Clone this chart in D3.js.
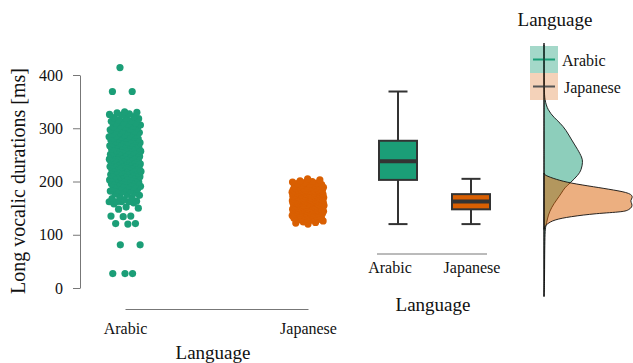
<!DOCTYPE html>
<html>
<head>
<meta charset="utf-8">
<script src="https://cdn.jsdelivr.net/npm/d3@7"></script>
<style>
  body { margin: 0; background: #fff; }
  svg, svg text { font-family: "Liberation Serif", "Times New Roman", serif; }
  svg { display: block; }
</style>
</head>
<body>
<svg id="chart" width="633" height="363"></svg>
<script>
// ---- data ----
var languages = ["Arabic", "Japanese"];
var colors = ["#1b9e77", "#d95f02"];
var yTicks = [0, 100, 200, 300, 400];

// long vowel durations in ms
var arabicDurations = [
  27, 27, 27, 81, 81, 120, 121, 121, 134, 135, 135, 148, 150, 152,
  158, 160, 162, 162, 162, 162, 163, 166, 168, 170, 172, 174,
  176, 177, 178, 180, 182, 183, 184, 186, 187, 188, 189, 190, 191, 192, 193, 194,
  195, 196, 197, 198, 199, 200, 201, 202, 203, 203, 204,
  205, 206, 206, 207, 208, 209, 209, 210, 211, 212, 213, 213, 214,
  215, 216, 216, 217, 218, 218, 219, 220, 220, 221, 222, 222, 223, 224, 224,
  225, 226, 226, 227, 228, 228, 229, 230, 230, 231, 232, 232, 233, 234, 234,
  235, 236, 236, 237, 238, 238, 239, 240, 240, 241, 242, 242, 243, 244, 244,
  245, 246, 247, 247, 248, 249, 250, 250, 251, 252, 253, 253, 254, 254,
  255, 256, 257, 258, 258, 259, 260, 261, 262, 262, 263, 264, 264,
  265, 266, 267, 268, 269, 269, 270, 271, 272, 272, 273, 274,
  275, 276, 277, 278, 279, 280, 280, 281, 282, 283, 284, 284,
  285, 286, 287, 288, 289, 290, 291, 292, 293, 294,
  295, 296, 297, 298, 300, 301, 302, 303, 304,
  305, 306, 308, 309, 310, 311, 313, 314,
  316, 318, 319, 320, 322, 324, 326, 327, 329, 330, 331,
  369, 369, 414
];
var japaneseDurations = [
  120, 122, 123, 124, 126, 127, 128, 129,
  130, 131, 132, 132, 133, 134, 135, 135, 136, 136, 137, 137, 138, 138, 139, 139,
  140, 140, 140, 141, 141, 141, 142, 142, 142, 143, 143, 143, 144, 144, 144,
  145, 145, 145, 145, 146, 146, 146, 146, 147, 147, 147,
  148, 148, 148, 149, 149, 149, 150, 150, 150, 151, 151, 151, 152, 152, 152,
  153, 153, 153, 154, 154, 154, 155, 155, 155, 156, 156, 156, 157, 157, 157,
  158, 158, 158, 158, 159, 159, 159, 160, 160, 160, 160, 161, 161, 161, 161,
  162, 162, 162, 162, 162,
  163, 163, 163, 163, 164, 164, 164, 164, 165, 165, 165, 165, 166, 166, 166, 166,
  167, 167, 167, 167, 168, 168, 168, 168, 169, 169, 169, 170, 170, 170, 170,
  171, 171, 171, 172, 172, 172, 172, 173, 173, 173, 174, 174, 174,
  175, 175, 175, 176, 176, 176,
  177, 177, 177, 178, 178, 178, 179, 179, 179, 180, 180, 180, 181, 181, 181,
  182, 182, 182, 183, 183, 183, 184, 184, 184, 185, 185,
  186, 186, 187, 187, 188, 188, 189, 189, 190, 191, 191, 192, 193, 193, 194, 195,
  196, 197, 198, 199, 200, 201, 203, 205
];

// marginal densities: [duration ms, density x 1000]
var arabicDensity = [
  [460, 0], [380, 0.05], [353, 0.2], [334, 1.3], [320, 3.4], [310, 5.4], [297, 7.4],
  [278, 9.3], [259, 11.5], [245, 12.8], [237, 13.1], [222, 12.6], [212, 11.5],
  [197, 8.8], [188, 6.9], [179, 6.0], [165, 4.2], [152, 2.6], [137, 1.4],
  [122, 0.9], [113, 0.4], [90, 0.3], [53, 0.2], [16, 0.2], [-16, 0]
];
var japaneseDensity = [
  [216, 0], [212, 0.1], [204, 4.0], [197, 8.8], [190, 16.9], [184, 23.6],
  [178, 29.3], [170, 30.0], [164, 29.0], [158, 29.7], [152, 29.7], [147, 28.6],
  [143, 27.0], [140, 17.5], [134, 8.8], [128, 3.2], [120, 1.0], [115, 0.2], [110, 0]
];

// ---- setup ----
var svg = d3.select("#chart");
var FONT = "'Liberation Serif', 'Times New Roman', serif";
var durations = { Arabic: arabicDurations, Japanese: japaneseDurations };
var densities = { Arabic: arabicDensity, Japanese: japaneseDensity };
var color = d3.scaleOrdinal().domain(languages).range(colors);

// shared vertical scale for all three panels
var y = d3.scaleLinear().domain([0, 400]).range([288, 75]);

// spread points sideways with a fixed low-discrepancy sequence (no randomness)
function jitter(i) {
    return ((i * 0.6180339887 + 0.5) % 1) * 2 - 1;
}

function styleAxis(g, size) {
    g.attr("font-family", null).attr("font-size", null);
    g.select(".domain").attr("stroke", "#777");
    g.selectAll(".tick line").attr("stroke", "#777");
    g.selectAll(".tick text")
        .style("font-family", FONT)
        .style("font-size", size + "px")
        .attr("fill", "#111");
}

// ---- panel 1: jittered points ----
var x = d3.scalePoint().domain(languages).range([125, 308]);

var yAxis = svg.append("g")
    .attr("transform", "translate(80,0)")
    .call(d3.axisLeft(y).tickValues(yTicks).tickSize(7).tickPadding(10).tickSizeOuter(0));
styleAxis(yAxis, 16);

var xAxis = svg.append("g")
    .attr("transform", "translate(0,309)")
    .call(d3.axisBottom(x).tickSize(0).tickPadding(14).tickSizeOuter(0));
styleAxis(xAxis, 16);

svg.append("text")
    .attr("transform", "translate(25,181) rotate(-90)")
    .attr("text-anchor", "middle")
    .attr("font-size", 20)
    .attr("fill", "#111")
    .text("Long vocalic durations [ms]");

svg.append("text")
    .attr("x", 213).attr("y", 359)
    .attr("text-anchor", "middle")
    .attr("font-size", 19)
    .attr("fill", "#111")
    .text("Language");

languages.forEach(function (lang) {
    svg.append("g").selectAll("circle")
        .data(durations[lang])
        .join("circle")
        .attr("cx", function (d, i) { return x(lang) + jitter(i) * 16; })
        .attr("cy", function (d) { return y(d); })
        .attr("r", 3.6)
        .attr("fill", color(lang));
});

// ---- panel 2: box plots ----
var xb = d3.scalePoint().domain(languages).range([398, 471]);
var xbLabel = d3.scalePoint().domain(languages).range([390, 472]);
var boxW = 38;

languages.forEach(function (lang) {
    var vals = durations[lang].slice().sort(d3.ascending);
    var q1 = d3.quantile(vals, 0.25),
        med = d3.quantile(vals, 0.5),
        q3 = d3.quantile(vals, 0.75),
        iqr = q3 - q1;
    var lo = d3.min(vals.filter(function (v) { return v >= q1 - 1.5 * iqr; }));
    var hi = d3.max(vals.filter(function (v) { return v <= q3 + 1.5 * iqr; }));
    var cx = xb(lang);
    var g = svg.append("g").attr("stroke", "#333");

    g.append("line")
        .attr("x1", cx).attr("x2", cx)
        .attr("y1", y(lo)).attr("y2", y(hi))
        .attr("stroke-width", 2);
    [lo, hi].forEach(function (v) {
        g.append("line")
            .attr("x1", cx - boxW / 4).attr("x2", cx + boxW / 4)
            .attr("y1", y(v)).attr("y2", y(v))
            .attr("stroke-width", 2);
    });
    g.append("rect")
        .attr("x", cx - boxW / 2).attr("y", y(q3))
        .attr("width", boxW).attr("height", y(q1) - y(q3))
        .attr("fill", color(lang))
        .attr("stroke-width", 2);
    g.append("line")
        .attr("x1", cx - boxW / 2).attr("x2", cx + boxW / 2)
        .attr("y1", y(med)).attr("y2", y(med))
        .attr("stroke-width", 4);

    svg.append("text")
        .attr("x", xbLabel(lang)).attr("y", 273)
        .attr("text-anchor", "middle")
        .attr("font-size", 16)
        .attr("fill", "#111")
        .text(lang);
});

svg.append("line")
    .attr("x1", 377).attr("x2", 487)
    .attr("y1", 254).attr("y2", 254)
    .attr("stroke", "#777");

svg.append("text")
    .attr("x", 433).attr("y", 311)
    .attr("text-anchor", "middle")
    .attr("font-size", 19)
    .attr("fill", "#111")
    .text("Language");

// ---- panel 3: marginal densities + legend ----
var xd = d3.scaleLinear().domain([0, 30]).range([544, 633]);

var area = d3.area()
    .y(function (d) { return y(d[0]); })
    .x0(xd(0))
    .x1(function (d) { return xd(d[1]); })
    .curve(d3.curveBasis);

languages.forEach(function (lang) {
    svg.append("path")
        .datum(densities[lang])
        .attr("d", area)
        .attr("fill", color(lang))
        .attr("fill-opacity", 0.5)
        .attr("stroke", "#111")
        .attr("stroke-width", 0.9);
});

// legend
var keyH = 27;
languages.forEach(function (lang, i) {
    var top = 46 + i * keyH;
    svg.append("rect")
        .attr("x", 530).attr("y", top)
        .attr("width", 28).attr("height", keyH)
        .attr("fill", color(lang))
        .attr("fill-opacity", i === 0 ? 0.4 : 0.28);
    svg.append("line")
        .attr("x1", 533).attr("x2", 555)
        .attr("y1", top + keyH / 2).attr("y2", top + keyH / 2)
        .attr("stroke", i === 0 ? color(lang) : "#555")
        .attr("stroke-width", 2);
    svg.append("text")
        .attr("x", 562 + i * 2).attr("y", top + keyH / 2 + 6)
        .attr("font-size", 16)
        .attr("fill", "#111")
        .text(lang);
});

// density baseline (runs through the legend keys)
svg.append("line")
    .attr("x1", xd(0)).attr("x2", xd(0))
    .attr("y1", 45).attr("y2", y(-16))
    .attr("stroke", "#111")
    .attr("stroke-width", 1);

svg.append("text")
    .attr("x", 555).attr("y", 26)
    .attr("text-anchor", "middle")
    .attr("font-size", 19)
    .attr("fill", "#111")
    .text("Language");
</script>
</body>
</html>
